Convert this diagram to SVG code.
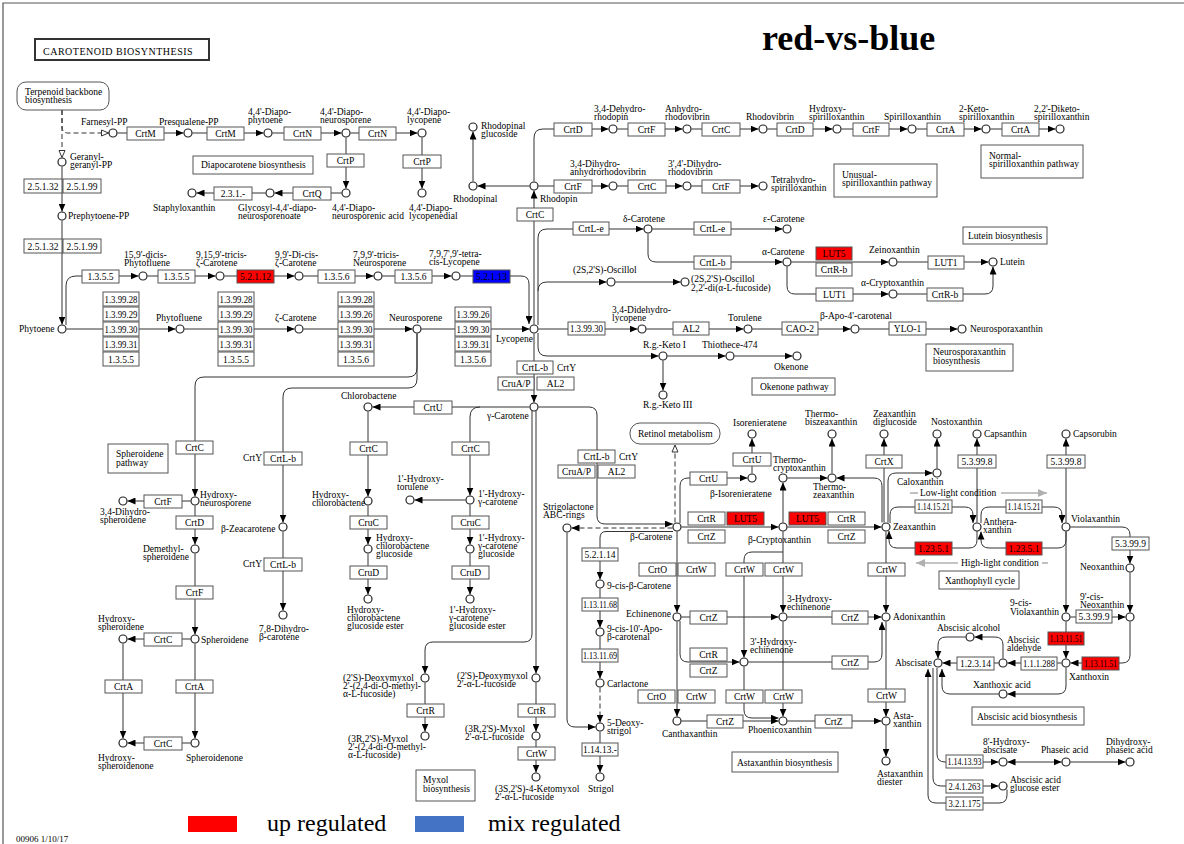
<svg xmlns="http://www.w3.org/2000/svg" width="1184" height="844" viewBox="0 0 1184 844">
<defs>
<marker id="a" markerUnits="userSpaceOnUse" markerWidth="8" markerHeight="7" refX="8" refY="3.5" orient="auto-start-reverse"><path d="M0,0L8,3.5L0,7z" fill="#000"/></marker>
<marker id="h" markerUnits="userSpaceOnUse" markerWidth="9" markerHeight="8" refX="8" refY="4" orient="auto"><path d="M1,1L8,4L1,7z" fill="#fff" stroke="#333" stroke-width="1"/></marker>
<marker id="g" markerUnits="userSpaceOnUse" markerWidth="9" markerHeight="8" refX="9" refY="4" orient="auto"><path d="M0,0L9,4L0,8z" fill="#b0b0b0"/></marker>
<style>
text{font-family:"Liberation Serif","Times New Roman",serif;font-size:9.5px;fill:#000}
.m{text-anchor:middle}
.b{fill:#fff;stroke:#555;stroke-width:1}
.r{fill:#ff0000;stroke:#555;stroke-width:1}
.u{fill:#0000ff;stroke:#555;stroke-width:1}
.p{fill:#fff;stroke:#555;stroke-width:1}
circle{fill:#fff;stroke:#222;stroke-width:1.2}
.e{fill:none;stroke:#333;stroke-width:1}
.ea{fill:none;stroke:#333;stroke-width:1;marker-end:url(#a)}
.d{stroke-dasharray:5,3}
.gl{fill:none;stroke:#b0b0b0;stroke-width:1.6}
</style>
</defs>
<rect width="1184" height="844" fill="#fff"/>
<path d="M3,844V3H1184" fill="none" stroke="#555" stroke-width="1.2"/>

<g id="title">
<rect x="35" y="39" width="174" height="21" fill="#fff" stroke="#333" stroke-width="2"/>
<text x="43" y="55" style="font-size:10px;letter-spacing:0.5px">CAROTENOID  BIOSYNTHESIS</text>
<text x="762" y="50" style="font-size:36px;font-weight:bold">red-vs-blue</text>
</g>
<g id="legend">
<rect x="188" y="816" width="49" height="16" fill="#ff0000"/>
<text x="267" y="831" style="font-size:24px">up regulated</text>
<rect x="415" y="816" width="49" height="16" fill="#4472c4"/>
<text x="488" y="831" style="font-size:24px">mix regulated</text>
<text x="16" y="842" style="font-size:9px">00906 1/10/17</text>
</g>

<g id="connectors">
<path class="e d" d="M62,110V127Q62,133 68,133H108.5" marker-end="url(#h)"/>
<path class="e d" d="M62,110V157.5" marker-end="url(#h)"/>
<path class="ea" d="M117.5,133H183.5"/>
<path class="ea" d="M192.5,133H263.5"/>
<path class="ea" d="M272.5,133H341.5"/>
<path class="ea" d="M350.5,133H417.5"/>
<path class="ea" d="M346,137.5V188.5"/>
<path class="ea" d="M341.5,193H274.5"/>
<path class="ea" d="M265.5,193H196.5"/>
<path class="ea" d="M422,137.5V188.5"/>
<path class="ea" d="M62,166.5V211.5"/>
<path class="ea" d="M62,220.5V324.5"/>
<path class="ea" d="M66,325V286Q66,276 76,276H138.5"/>
<path class="ea" d="M147.5,276H215.5"/>
<path class="ea" d="M224.5,276H294.5"/>
<path class="ea" d="M303.5,276H373.5"/>
<path class="ea" d="M382.5,276H451.5"/>
<path class="ea" d="M460.5,276H521Q529,276 529,284V324"/>
<path class="ea" d="M66.5,329H175.5"/>
<path class="ea" d="M184.5,329H294.5"/>
<path class="ea" d="M303.5,329H412.5"/>
<path class="ea" d="M421.5,329H529.5"/>
<path class="ea" d="M534,324.5V190.5"/>
<path class="ea" d="M538,325V238Q538,229 547,229H643.5"/>
<path class="ea" d="M538,291Q538,282 547,282H606.5"/>
<path class="ea" d="M615.5,282H680.5"/>
<path class="ea" d="M538.5,329H637.5"/>
<path class="ea" d="M646.5,329H743.5"/>
<path class="ea" d="M752.5,329H850.5"/>
<path class="ea" d="M859.5,329H957.5"/>
<path class="ea" d="M538,333V347Q538,356 547,356H658.5"/>
<path class="ea" d="M667.5,356H725.5"/>
<path class="ea" d="M734.5,356H792.5"/>
<path class="ea" d="M663,360.5V390.5"/>
<path class="ea" d="M534,333.5V402.5"/>
<path class="ea" d="M529.5,186H477.5"/>
<path class="ea" d="M473,181.5V131.5"/>
<path class="ea" d="M534,181.5V138Q534,129 543,129H608.5"/>
<path class="ea" d="M617.5,129H682.5"/>
<path class="ea" d="M691.5,129H758.5"/>
<path class="ea" d="M767.5,129H832.5"/>
<path class="ea" d="M841.5,129H907.5"/>
<path class="ea" d="M916.5,129H981.5"/>
<path class="ea" d="M990.5,129H1055.5"/>
<path class="ea" d="M538.5,186H608.5"/>
<path class="ea" d="M617.5,186H682.5"/>
<path class="ea" d="M691.5,186H758.5"/>
<path class="ea" d="M652.5,229H782.5"/>
<path class="ea" d="M648,233.5V254Q648,262 656,262H782.5"/>
<path class="ea" d="M791.5,262H888.5"/>
<path class="ea" d="M897.5,262H988.5"/>
<path class="ea" d="M787,266.5V286Q787,294 795,294H888.5"/>
<path class="ea" d="M897.5,294H985Q993,294 993,286V266.5"/>
<path class="ea" d="M529.5,407H372.5"/>
<path class="ea" d="M480,407Q470,407 470,417V495.5"/>
<path class="ea" d="M465.5,500H414.5"/>
<path class="ea" d="M470,504.5V544.5"/>
<path class="ea" d="M470,553.5V594.5"/>
<path class="ea" d="M538.5,407H589Q597,407 597,415V516Q597,524 605,524H672.8"/>
<path class="ea" d="M368,411.5V496.5"/>
<path class="ea" d="M368,505.5V544.5"/>
<path class="ea" d="M368,553.5V594.5"/>
<path class="ea" d="M532,411V634Q532,642 524,642H433Q425,642 425,650V673.5"/>
<path class="ea" d="M536,411V673.5"/>
<path class="ea" d="M425,682.5V731.5"/>
<path class="ea" d="M536,682.5V731.5"/>
<path class="ea" d="M536,740.5V772.5"/>
<path class="ea" d="M417,333.5V368Q417,377 408,377H204Q195,377 195,386V496.5"/>
<path class="ea" d="M417,333.5V379Q417,388 408,388H292Q283,388 283,397V522.5"/>
<path class="ea" d="M283,531.5V610.5"/>
<path class="ea" d="M190.5,501H127.5"/>
<path class="ea" d="M195,505.5V544.5"/>
<path class="ea" d="M195,553.5V634.5"/>
<path class="ea" d="M190.5,639H127.5"/>
<path class="ea" d="M195,643.5V738.5"/>
<path class="ea" d="M123,643.5V738.5"/>
<path class="ea" d="M190.5,743H127.5"/>
<path class="ea d" d="M672.5,528H571.5"/>
<path class="ea" d="M673,531.5H606Q600,531.5 600,538V579.5"/>
<path class="ea" d="M600,588.5V627.5"/>
<path class="ea" d="M600,636.5V678.5"/>
<path class="ea d" d="M600,687.5V722.5"/>
<path class="ea" d="M600,731.5V772.5"/>
<path class="ea" d="M567,532.5V719Q567,727 575,727H595.5"/>
<path class="e d" d="M675,522.5V445" marker-end="url(#h)"/>
<path class="ea" d="M681.5,527H778.5"/>
<path class="ea" d="M787.5,527H881.5"/>
<path class="ea" d="M680,523V486Q680,478 688,478H747.5"/>
<path class="ea" d="M752,473.5V438.5"/>
<path class="ea" d="M783,522.5V482.5"/>
<path class="ea" d="M787.5,478H827.5"/>
<path class="ea" d="M832,473.5V438.5"/>
<path class="ea" d="M882,522.5V486Q882,478 874,478H836.5"/>
<path class="ea" d="M884,522.5V438.5"/>
<path class="ea" d="M888,522.5V481Q888,473 896,473H932.5"/>
<path class="ea" d="M937,468.5V438.5"/>
<path class="ea" d="M890,523V515Q890,507 898,507H965Q973,507 973,515V523"/>
<path class="ea" d="M977,531V540Q977,548 969,548H897Q889,548 889,540V531"/>
<path class="ea" d="M981,523V515Q981,507 989,507H1054Q1062,507 1062,515V523"/>
<path class="ea" d="M1066,531.5V540Q1066,548 1058,548H989Q981,548 981,540V531.5"/>
<path class="ea" d="M977,522.5V438.5"/>
<path class="ea" d="M1066,522.5V438.5"/>
<path class="ea" d="M1070.5,527H1122Q1130,527 1130,535V563.5"/>
<path class="ea" d="M1130,572.5V612.5"/>
<path class="ea" d="M1066,531.5V612.5"/>
<path class="ea" d="M1070.5,617H1125.5"/>
<path class="ea" d="M1066,621.5V658.5"/>
<path class="ea" d="M1130,621.5V655Q1130,663 1122,663H1070.5"/>
<path class="ea" d="M1061.5,663H1007.5"/>
<path class="ea" d="M998.5,663H942.5"/>
<path class="ea" d="M1003,658.5V645Q1003,637 995,637H974.5"/>
<path class="ea" d="M965.5,637H946Q938,637 938,645V658.5"/>
<path class="ea" d="M1066,667.5V686Q1066,694 1058,694H1007.5"/>
<path class="ea" d="M998.5,694H950Q942,694 942,686V669"/>
<path class="ea" d="M937,668V754Q937,762 945,762H998.5"/>
<path class="ea" d="M933,668V778Q933,786 941,786H998.5"/>
<path class="ea" d="M1007.5,762H1061.5" marker-start="url(#a)"/>
<path class="ea" d="M1070.5,762H1125.5"/>
<path class="ea" d="M1007,789.5V795Q1007,803 999,803H936Q928,803 928,795V669"/>
<path class="ea" d="M677,531.5V612.5"/>
<path class="ea" d="M681.5,617H778.5"/>
<path class="ea" d="M783,531.5V612.5"/>
<path class="ea" d="M787.5,617H881.5"/>
<path class="ea" d="M886,531.5V612.5"/>
<path class="ea" d="M680,621V654Q680,662 688,662H739.5"/>
<path class="ea" d="M783,552H752Q744,552 744,560V657.5"/>
<path class="ea" d="M748.5,662H874Q882,662 882,654V622"/>
<path class="ea" d="M677,621.5V716.5"/>
<path class="ea" d="M681.5,721H778.5"/>
<path class="ea" d="M783,621.5V716.5"/>
<path class="ea" d="M744,666.5V710Q744,718 752,718H778.5"/>
<path class="ea" d="M787.5,721H881.5"/>
<path class="ea" d="M886,621.5V716.5"/>
<path class="ea" d="M886,725.5V756.5"/>
<path class="gl" d="M910,493H918"/>
<path class="gl" d="M1001,493H1047" marker-end="url(#g)"/>
<path class="gl" d="M958,563H916" marker-end="url(#g)"/>
<path class="gl" d="M1042,563H1048"/>
</g>

<g id="conditions">
<text x="920" y="496">Low-light condition</text>
<text x="961" y="566">High-light condition</text>
</g>

<g id="maps">
<g id="m-terpenoid"><rect class="p" x="17" y="82" width="92" height="28" rx="9"/><text x="25" y="95">Terpenoid backbone<tspan x="25" y="103">biosynthesis</tspan></text></g>
<g id="m-retinol"><rect class="p" x="630" y="423" width="90" height="21" rx="10"/><text x="638" y="437">Retinol metabolism</text></g>
<g id="m-diapo"><rect class="p" x="193" y="156" width="120" height="18"/><text x="201" y="168">Diapocarotene biosynthesis</text></g>
<g id="m-spheroidene"><rect class="p" x="108" y="444" width="60" height="29"/><text x="116" y="457">Spheroidene<tspan x="116" y="466">pathway</tspan></text></g>
<g id="m-normal"><rect class="p" x="981" y="145" width="102" height="33"/><text x="989" y="159">Normal-<tspan x="989" y="167">spirilloxanthin pathway</tspan></text></g>
<g id="m-unusual"><rect class="p" x="834" y="164" width="103" height="33"/><text x="842" y="178">Unusual-<tspan x="842" y="186">spirilloxanthin pathway</tspan></text></g>
<g id="m-lutein"><rect class="p" x="963" y="227" width="84" height="17"/><text x="968" y="239">Lutein biosynthesis</text></g>
<g id="m-neuro"><rect class="p" x="926" y="344" width="87" height="27"/><text x="933" y="355">Neurosporaxanthin<tspan x="933" y="364">biosynthesis</tspan></text></g>
<g id="m-okenone"><rect class="p" x="752" y="378" width="83" height="17"/><text x="760" y="390">Okenone pathway</text></g>
<g id="m-myxol"><rect class="p" x="416" y="770" width="59" height="31"/><text x="423" y="783">Myxol<tspan x="423" y="792">biosynthesis</tspan></text></g>
<g id="m-astaxanthin"><rect class="p" x="732" y="752" width="106" height="20"/><text x="737" y="766">Astaxanthin biosynthesis</text></g>
<g id="m-xanthophyll"><rect class="p" x="939" y="571" width="80" height="18"/><text x="945" y="584">Xanthophyll cycle</text></g>
<g id="m-aba"><rect class="p" x="972" y="707" width="112" height="18"/><text x="977" y="720">Abscisic acid biosynthesis</text></g>
</g>

<g id="enzymes">
<g id="k1"><rect class="b" x="127" y="127" width="37" height="13"/><text class="m" x="145.5" y="137">CrtM</text></g>
<g id="k2"><rect class="b" x="207" y="127" width="37" height="13"/><text class="m" x="225.5" y="137">CrtM</text></g>
<g id="k3"><rect class="b" x="284" y="127" width="37" height="13"/><text class="m" x="302.5" y="137">CrtN</text></g>
<g id="k4"><rect class="b" x="359" y="127" width="37" height="13"/><text class="m" x="377.5" y="137">CrtN</text></g>
<g id="k5"><rect class="b" x="327" y="154" width="37" height="13"/><text class="m" x="345.5" y="164">CrtP</text></g>
<g id="k6"><rect class="b" x="403" y="155" width="38" height="13"/><text class="m" x="422" y="165">CrtP</text></g>
<g id="k7"><rect class="b" x="293" y="187" width="38" height="13"/><text class="m" x="312" y="197">CrtQ</text></g>
<g id="k8"><rect class="b" x="214" y="187" width="38" height="13"/><text class="m" x="233" y="197">2.3.1.-</text></g>
<g id="k9"><rect class="b" x="24" y="179" width="38" height="14"/><text class="m" x="43" y="190">2.5.1.32</text></g>
<g id="k10"><rect class="b" x="63" y="179" width="38" height="14"/><text class="m" x="82" y="190">2.5.1.99</text></g>
<g id="k11"><rect class="b" x="24" y="239" width="38" height="14"/><text class="m" x="43" y="250">2.5.1.32</text></g>
<g id="k12"><rect class="b" x="63" y="239" width="38" height="14"/><text class="m" x="82" y="250">2.5.1.99</text></g>
<g id="k13"><rect class="b" x="82" y="270" width="37" height="13"/><text class="m" x="100.5" y="280">1.3.5.5</text></g>
<g id="k14"><rect class="b" x="158" y="270" width="37" height="13"/><text class="m" x="176.5" y="280">1.3.5.5</text></g>
<g id="k15"><rect class="r" x="237" y="270" width="37" height="13"/><text class="m" x="255.5" y="280">5.2.1.12</text></g>
<g id="k16"><rect class="b" x="318" y="270" width="37" height="13"/><text class="m" x="336.5" y="280">1.3.5.6</text></g>
<g id="k17"><rect class="b" x="395" y="270" width="37" height="13"/><text class="m" x="413.5" y="280">1.3.5.6</text></g>
<g id="k18"><rect class="u" x="473" y="270" width="37" height="13"/><text class="m" x="491.5" y="280">5.2.1.13</text></g>
<g id="s1">
<rect class="b" x="103" y="292" width="36" height="14"/><text class="m" x="121" y="302.5" textLength="33" lengthAdjust="spacingAndGlyphs">1.3.99.28</text>
<rect class="b" x="103" y="307" width="36" height="14"/><text class="m" x="121" y="317.5" textLength="33" lengthAdjust="spacingAndGlyphs">1.3.99.29</text>
<rect class="b" x="103" y="322" width="36" height="14"/><text class="m" x="121" y="332.5" textLength="33" lengthAdjust="spacingAndGlyphs">1.3.99.30</text>
<rect class="b" x="103" y="337" width="36" height="14"/><text class="m" x="121" y="347.5" textLength="33" lengthAdjust="spacingAndGlyphs">1.3.99.31</text>
<rect class="b" x="103" y="352" width="36" height="14"/><text class="m" x="121" y="362.5">1.3.5.5</text>
</g>
<g id="s2">
<rect class="b" x="218" y="292" width="36" height="14"/><text class="m" x="236" y="302.5" textLength="33" lengthAdjust="spacingAndGlyphs">1.3.99.28</text>
<rect class="b" x="218" y="307" width="36" height="14"/><text class="m" x="236" y="317.5" textLength="33" lengthAdjust="spacingAndGlyphs">1.3.99.29</text>
<rect class="b" x="218" y="322" width="36" height="14"/><text class="m" x="236" y="332.5" textLength="33" lengthAdjust="spacingAndGlyphs">1.3.99.30</text>
<rect class="b" x="218" y="337" width="36" height="14"/><text class="m" x="236" y="347.5" textLength="33" lengthAdjust="spacingAndGlyphs">1.3.99.31</text>
<rect class="b" x="218" y="352" width="36" height="14"/><text class="m" x="236" y="362.5">1.3.5.5</text>
</g>
<g id="s3">
<rect class="b" x="338" y="292" width="36" height="14"/><text class="m" x="356" y="302.5" textLength="33" lengthAdjust="spacingAndGlyphs">1.3.99.28</text>
<rect class="b" x="338" y="307" width="36" height="14"/><text class="m" x="356" y="317.5" textLength="33" lengthAdjust="spacingAndGlyphs">1.3.99.26</text>
<rect class="b" x="338" y="322" width="36" height="14"/><text class="m" x="356" y="332.5" textLength="33" lengthAdjust="spacingAndGlyphs">1.3.99.30</text>
<rect class="b" x="338" y="337" width="36" height="14"/><text class="m" x="356" y="347.5" textLength="33" lengthAdjust="spacingAndGlyphs">1.3.99.31</text>
<rect class="b" x="338" y="352" width="36" height="14"/><text class="m" x="356" y="362.5">1.3.5.6</text>
</g>
<g id="s4">
<rect class="b" x="455" y="307" width="36" height="14"/><text class="m" x="473" y="317.5" textLength="33" lengthAdjust="spacingAndGlyphs">1.3.99.26</text>
<rect class="b" x="455" y="322" width="36" height="14"/><text class="m" x="473" y="332.5" textLength="33" lengthAdjust="spacingAndGlyphs">1.3.99.30</text>
<rect class="b" x="455" y="337" width="36" height="14"/><text class="m" x="473" y="347.5" textLength="33" lengthAdjust="spacingAndGlyphs">1.3.99.31</text>
<rect class="b" x="455" y="352" width="36" height="14"/><text class="m" x="473" y="362.5">1.3.5.6</text>
</g>
<g id="k19"><rect class="b" x="517" y="208" width="36" height="13"/><text class="m" x="535" y="218">CrtC</text></g>
<g id="k20"><rect class="b" x="554" y="123" width="38" height="13"/><text class="m" x="573" y="133">CrtD</text></g>
<g id="k21"><rect class="b" x="628" y="123" width="37" height="13"/><text class="m" x="646.5" y="133">CrtF</text></g>
<g id="k22"><rect class="b" x="702" y="123" width="38" height="13"/><text class="m" x="721" y="133">CrtC</text></g>
<g id="k23"><rect class="b" x="777" y="123" width="36" height="13"/><text class="m" x="795" y="133">CrtD</text></g>
<g id="k24"><rect class="b" x="853" y="123" width="36" height="13"/><text class="m" x="871" y="133">CrtF</text></g>
<g id="k25"><rect class="b" x="927" y="123" width="37" height="13"/><text class="m" x="945.5" y="133">CrtA</text></g>
<g id="k26"><rect class="b" x="1002" y="123" width="37" height="13"/><text class="m" x="1020.5" y="133">CrtA</text></g>
<g id="k27"><rect class="b" x="554" y="180" width="38" height="13"/><text class="m" x="573" y="190">CrtF</text></g>
<g id="k28"><rect class="b" x="628" y="180" width="38" height="13"/><text class="m" x="647" y="190">CrtC</text></g>
<g id="k29"><rect class="b" x="702" y="180" width="38" height="13"/><text class="m" x="721" y="190">CrtF</text></g>
<g id="k30"><rect class="b" x="573" y="222" width="36" height="13"/><text class="m" x="591" y="232">CrtL-e</text></g>
<g id="k31"><rect class="b" x="694" y="222" width="37" height="13"/><text class="m" x="712.5" y="232">CrtL-e</text></g>
<g id="k32"><rect class="b" x="694" y="256" width="37" height="13"/><text class="m" x="712.5" y="266">CrtL-b</text></g>
<g id="k33"><rect class="r" x="816" y="247" width="36" height="13"/><text class="m" x="834" y="257">LUT5</text></g>
<g id="k34"><rect class="b" x="816" y="263" width="36" height="13"/><text class="m" x="834" y="273">CrtR-b</text></g>
<g id="k35"><rect class="b" x="928" y="256" width="36" height="13"/><text class="m" x="946" y="266">LUT1</text></g>
<g id="k36"><rect class="b" x="816" y="288" width="37" height="13"/><text class="m" x="834.5" y="298">LUT1</text></g>
<g id="k37"><rect class="b" x="927" y="288" width="36" height="13"/><text class="m" x="945" y="298">CrtR-b</text></g>
<g id="k38"><rect class="b" x="568" y="322" width="37" height="13"/><text class="m" x="586.5" y="332" textLength="33" lengthAdjust="spacingAndGlyphs">1.3.99.30</text></g>
<g id="k39"><rect class="b" x="673" y="322" width="36" height="13"/><text class="m" x="691" y="332">AL2</text></g>
<g id="k40"><rect class="b" x="782" y="322" width="36" height="13"/><text class="m" x="800" y="332">CAO-2</text></g>
<g id="k41"><rect class="b" x="889" y="322" width="37" height="13"/><text class="m" x="907.5" y="332">YLO-1</text></g>
<g id="k42"><rect class="b" x="517" y="361" width="36" height="13"/><text class="m" x="535" y="371">CrtL-b</text><text x="557" y="371">CrtY</text></g>
<g id="k43"><rect class="b" x="498" y="377" width="36" height="13"/><text class="m" x="516" y="387">CruA/P</text></g>
<g id="k44"><rect class="b" x="537" y="377" width="37" height="13"/><text class="m" x="555.5" y="387">AL2</text></g>
<g id="k45"><rect class="b" x="414" y="401" width="38" height="13"/><text class="m" x="433" y="411">CrtU</text></g>
<g id="k46"><rect class="b" x="452" y="442" width="37" height="13"/><text class="m" x="470.5" y="452">CrtC</text></g>
<g id="k47"><rect class="b" x="452" y="516" width="37" height="13"/><text class="m" x="470.5" y="526">CruC</text></g>
<g id="k48"><rect class="b" x="452" y="566" width="37" height="13"/><text class="m" x="470.5" y="576">CruD</text></g>
<g id="k49"><rect class="b" x="350" y="442" width="37" height="13"/><text class="m" x="368.5" y="452">CrtC</text></g>
<g id="k50"><rect class="b" x="350" y="516" width="37" height="13"/><text class="m" x="368.5" y="526">CruC</text></g>
<g id="k51"><rect class="b" x="350" y="566" width="37" height="13"/><text class="m" x="368.5" y="576">CruD</text></g>
<g id="k52"><rect class="b" x="176" y="441" width="37" height="13"/><text class="m" x="194.5" y="451">CrtC</text></g>
<g id="k53"><rect class="b" x="144" y="495" width="38" height="13"/><text class="m" x="163" y="505">CrtF</text></g>
<g id="k54"><rect class="b" x="176" y="516" width="37" height="13"/><text class="m" x="194.5" y="526">CrtD</text></g>
<g id="k55"><rect class="b" x="176" y="586" width="37" height="13"/><text class="m" x="194.5" y="596">CrtF</text></g>
<g id="k56"><rect class="b" x="144" y="633" width="38" height="13"/><text class="m" x="163" y="643">CrtC</text></g>
<g id="k57"><rect class="b" x="176" y="680" width="37" height="13"/><text class="m" x="194.5" y="690">CrtA</text></g>
<g id="k58"><rect class="b" x="105" y="680" width="37" height="13"/><text class="m" x="123.5" y="690">CrtA</text></g>
<g id="k59"><rect class="b" x="144" y="737" width="38" height="13"/><text class="m" x="163" y="747">CrtC</text></g>
<g id="k60"><rect class="b" x="264" y="452" width="38" height="13"/><text class="m" x="283" y="462">CrtL-b</text><text x="243" y="461">CrtY</text></g>
<g id="k61"><rect class="b" x="264" y="558" width="38" height="13"/><text class="m" x="283" y="568">CrtL-b</text><text x="243" y="567">CrtY</text></g>
<g id="k62"><rect class="b" x="407" y="704" width="37" height="13"/><text class="m" x="425.5" y="714">CrtR</text></g>
<g id="k63"><rect class="b" x="518" y="704" width="37" height="13"/><text class="m" x="536.5" y="714">CrtR</text></g>
<g id="k64"><rect class="b" x="518" y="747" width="37" height="13"/><text class="m" x="536.5" y="757">CrtW</text></g>
<g id="k65"><rect class="b" x="578" y="450" width="37" height="13"/><text class="m" x="596.5" y="460">CrtL-b</text><text x="619" y="460">CrtY</text></g>
<g id="k66"><rect class="b" x="558" y="465" width="37" height="13"/><text class="m" x="576.5" y="475">CruA/P</text></g>
<g id="k67"><rect class="b" x="598" y="465" width="37" height="13"/><text class="m" x="616.5" y="475">AL2</text></g>
<g id="k68"><rect class="b" x="582" y="548" width="36" height="13"/><text class="m" x="600" y="558">5.2.1.14</text></g>
<g id="k69"><rect class="b" x="582" y="598" width="36" height="13"/><text class="m" x="600" y="608" textLength="34" lengthAdjust="spacingAndGlyphs">1.13.11.68</text></g>
<g id="k70"><rect class="b" x="582" y="649" width="36" height="13"/><text class="m" x="600" y="659" textLength="34" lengthAdjust="spacingAndGlyphs">1.13.11.69</text></g>
<g id="k71"><rect class="b" x="582" y="743" width="36" height="13"/><text class="m" x="600" y="753">1.14.13.-</text></g>
<g id="k72"><rect class="b" x="690" y="472" width="37" height="13"/><text class="m" x="708.5" y="482">CrtU</text></g>
<g id="k73"><rect class="b" x="733" y="453" width="38" height="13"/><text class="m" x="752" y="463">CrtU</text></g>
<g id="k74"><rect class="b" x="688" y="512" width="37" height="13"/><text class="m" x="706.5" y="522">CrtR</text></g>
<g id="k75"><rect class="r" x="727" y="512" width="37" height="13"/><text class="m" x="745.5" y="522">LUT5</text></g>
<g id="k76"><rect class="b" x="688" y="530" width="37" height="13"/><text class="m" x="706.5" y="540">CrtZ</text></g>
<g id="k77"><rect class="r" x="789" y="512" width="37" height="13"/><text class="m" x="807.5" y="522">LUT5</text></g>
<g id="k78"><rect class="b" x="828" y="512" width="37" height="13"/><text class="m" x="846.5" y="522">CrtR</text></g>
<g id="k79"><rect class="b" x="828" y="530" width="37" height="13"/><text class="m" x="846.5" y="540">CrtZ</text></g>
<g id="k80"><rect class="b" x="866" y="455" width="36" height="13"/><text class="m" x="884" y="465">CrtX</text></g>
<g id="k81"><rect class="b" x="915" y="500" width="37" height="13"/><text class="m" x="933.5" y="510" textLength="33" lengthAdjust="spacingAndGlyphs">1.14.15.21</text></g>
<g id="k82"><rect class="b" x="1006" y="500" width="36" height="13"/><text class="m" x="1024" y="510" textLength="33" lengthAdjust="spacingAndGlyphs">1.14.15.21</text></g>
<g id="k83"><rect class="r" x="915" y="542" width="37" height="13"/><text class="m" x="933.5" y="552">1.23.5.1</text></g>
<g id="k84"><rect class="r" x="1006" y="542" width="36" height="13"/><text class="m" x="1024" y="552">1.23.5.1</text></g>
<g id="k85"><rect class="b" x="958" y="455" width="38" height="13"/><text class="m" x="977" y="465">5.3.99.8</text></g>
<g id="k86"><rect class="b" x="1047" y="455" width="38" height="13"/><text class="m" x="1066" y="465">5.3.99.8</text></g>
<g id="k87"><rect class="b" x="1112" y="537" width="37" height="13"/><text class="m" x="1130.5" y="547">5.3.99.9</text></g>
<g id="k88"><rect class="b" x="1076" y="610" width="36" height="13"/><text class="m" x="1094" y="620">5.3.99.9</text></g>
<g id="k89"><rect class="r" x="1048" y="632" width="36" height="13"/><text class="m" x="1066" y="642" textLength="33" lengthAdjust="spacingAndGlyphs">1.13.11.51</text></g>
<g id="k90"><rect class="r" x="1082" y="657" width="37" height="13"/><text class="m" x="1100.5" y="667" textLength="33" lengthAdjust="spacingAndGlyphs">1.13.11.51</text></g>
<g id="k91"><rect class="b" x="1021" y="657" width="36" height="13"/><text class="m" x="1039" y="667" textLength="32" lengthAdjust="spacingAndGlyphs">1.1.1.288</text></g>
<g id="k92"><rect class="b" x="957" y="657" width="37" height="13"/><text class="m" x="975.5" y="667">1.2.3.14</text></g>
<g id="k93"><rect class="b" x="946" y="755" width="37" height="13"/><text class="m" x="964.5" y="765" textLength="34" lengthAdjust="spacingAndGlyphs">1.14.13.93</text></g>
<g id="k94"><rect class="b" x="946" y="780" width="37" height="13"/><text class="m" x="964.5" y="790" textLength="32" lengthAdjust="spacingAndGlyphs">2.4.1.263</text></g>
<g id="k95"><rect class="b" x="946" y="797" width="37" height="13"/><text class="m" x="964.5" y="807" textLength="32" lengthAdjust="spacingAndGlyphs">3.2.1.175</text></g>
<g id="k96"><rect class="b" x="639" y="563" width="37" height="13"/><text class="m" x="657.5" y="573">CrtO</text></g>
<g id="k97"><rect class="b" x="678" y="563" width="37" height="13"/><text class="m" x="696.5" y="573">CrtW</text></g>
<g id="k98"><rect class="b" x="726" y="563" width="37" height="13"/><text class="m" x="744.5" y="573">CrtW</text></g>
<g id="k99"><rect class="b" x="765" y="563" width="37" height="13"/><text class="m" x="783.5" y="573">CrtW</text></g>
<g id="k100"><rect class="b" x="868" y="563" width="37" height="13"/><text class="m" x="886.5" y="573">CrtW</text></g>
<g id="k101"><rect class="b" x="690" y="611" width="37" height="13"/><text class="m" x="708.5" y="621">CrtZ</text></g>
<g id="k102"><rect class="b" x="832" y="611" width="36" height="13"/><text class="m" x="850" y="621">CrtZ</text></g>
<g id="k103"><rect class="b" x="690" y="648" width="37" height="13"/><text class="m" x="708.5" y="658">CrtR</text></g>
<g id="k104"><rect class="b" x="690" y="664" width="37" height="13"/><text class="m" x="708.5" y="674">CrtZ</text></g>
<g id="k105"><rect class="b" x="832" y="656" width="36" height="13"/><text class="m" x="850" y="666">CrtZ</text></g>
<g id="k106"><rect class="b" x="638" y="690" width="37" height="13"/><text class="m" x="656.5" y="700">CrtO</text></g>
<g id="k107"><rect class="b" x="678" y="690" width="37" height="13"/><text class="m" x="696.5" y="700">CrtW</text></g>
<g id="k108"><rect class="b" x="726" y="690" width="37" height="13"/><text class="m" x="744.5" y="700">CrtW</text></g>
<g id="k109"><rect class="b" x="765" y="690" width="37" height="13"/><text class="m" x="783.5" y="700">CrtW</text></g>
<g id="k110"><rect class="b" x="868" y="689" width="37" height="13"/><text class="m" x="886.5" y="699">CrtW</text></g>
<g id="k111"><rect class="b" x="707" y="715" width="36" height="13"/><text class="m" x="725" y="725">CrtZ</text></g>
<g id="k112"><rect class="b" x="815" y="715" width="37" height="13"/><text class="m" x="833.5" y="725">CrtZ</text></g>
</g>

<g id="compounds">
<g id="c1"><circle cx="113" cy="133" r="4"/><text x="81" y="125">Farnesyl-PP</text></g>
<g id="c2"><circle cx="188" cy="133" r="4"/><text x="159" y="125">Presqualene-PP</text></g>
<g id="c3"><circle cx="268" cy="133" r="4"/><text x="248" y="115">4,4'-Diapo-<tspan x="248" y="123">phytoene</tspan></text></g>
<g id="c4"><circle cx="346" cy="133" r="4"/><text x="320" y="115">4,4'-Diapo-<tspan x="320" y="123">neurosporene</tspan></text></g>
<g id="c5"><circle cx="422" cy="133" r="4"/><text x="407" y="115">4,4'-Diapo-<tspan x="407" y="123">lycopene</tspan></text></g>
<g id="c6"><circle cx="346" cy="193" r="4"/><text x="332" y="211">4,4'-Diapo-<tspan x="332" y="219">neurosporenic acid</tspan></text></g>
<g id="c7"><circle cx="270" cy="193" r="4"/><text x="238" y="211">Glycosyl-4,4'-diapo-<tspan x="238" y="219">neurosporenoate</tspan></text></g>
<g id="c8"><circle cx="192" cy="193" r="4"/><text x="153" y="211">Staphyloxanthin</text></g>
<g id="c9"><circle cx="422" cy="193" r="4"/><text x="409" y="211">4,4'-Diapo-<tspan x="409" y="219">lycopenedial</tspan></text></g>
<g id="c10"><circle cx="62" cy="162" r="4"/><text x="70" y="160">Geranyl-<tspan x="70" y="168">geranyl-PP</tspan></text></g>
<g id="c11"><circle cx="62" cy="216" r="4"/><text x="68" y="219">Prephytoene-PP</text></g>
<g id="c12"><circle cx="62" cy="329" r="4"/><text x="19" y="332">Phytoene</text></g>
<g id="c13"><circle cx="143" cy="276" r="4"/><text x="124" y="258">15,9'-dicis-<tspan x="124" y="266">Phytofluene</tspan></text></g>
<g id="c14"><circle cx="220" cy="276" r="4"/><text x="196" y="258">9,15,9'-tricis-<tspan x="196" y="266">ζ-Carotene</tspan></text></g>
<g id="c15"><circle cx="299" cy="276" r="4"/><text x="275" y="258">9,9'-Di-cis-<tspan x="275" y="266">ζ-Carotene</tspan></text></g>
<g id="c16"><circle cx="378" cy="276" r="4"/><text x="353" y="258">7,9,9'-tricis-<tspan x="353" y="266">Neurosporene</tspan></text></g>
<g id="c17"><circle cx="456" cy="276" r="4"/><text x="429" y="257">7,9,7',9'-tetra-<tspan x="429" y="265">cis-Lycopene</tspan></text></g>
<g id="c18"><circle cx="180" cy="329" r="4"/><text x="156" y="321">Phytofluene</text></g>
<g id="c19"><circle cx="299" cy="329" r="4"/><text x="275" y="321">ζ-Carotene</text></g>
<g id="c20"><circle cx="417" cy="329" r="4"/><text x="389" y="321">Neurosporene</text></g>
<g id="c21"><circle cx="534" cy="329" r="4"/><text x="496" y="342">Lycopene</text></g>
<g id="c22"><circle cx="534" cy="186" r="4"/><text x="540" y="202">Rhodopin</text></g>
<g id="c23"><circle cx="473" cy="186" r="4"/><text x="453" y="202">Rhodopinal</text></g>
<g id="c24"><circle cx="473" cy="127" r="4"/><text x="481" y="129">Rhodopinal<tspan x="481" y="137">glucoside</tspan></text></g>
<g id="c25"><circle cx="613" cy="129" r="4"/><text x="594" y="112">3,4-Dehydro-<tspan x="594" y="120">rhodopin</tspan></text></g>
<g id="c26"><circle cx="687" cy="129" r="4"/><text x="665" y="112">Anhydro-<tspan x="665" y="120">rhodovibrin</tspan></text></g>
<g id="c27"><circle cx="763" cy="129" r="4"/><text x="746" y="120">Rhodovibrin</text></g>
<g id="c28"><circle cx="837" cy="129" r="4"/><text x="809" y="112">Hydroxy-<tspan x="809" y="120">spirilloxanthin</tspan></text></g>
<g id="c29"><circle cx="912" cy="129" r="4"/><text x="884" y="120">Spirilloxanthin</text></g>
<g id="c30"><circle cx="986" cy="129" r="4"/><text x="959" y="112">2-Keto-<tspan x="959" y="120">spirilloxanthin</tspan></text></g>
<g id="c31"><circle cx="1060" cy="129" r="4"/><text x="1034" y="112">2,2'-Diketo-<tspan x="1034" y="120">spirilloxanthin</tspan></text></g>
<g id="c32"><circle cx="613" cy="186" r="4"/><text x="570" y="167">3,4-Dihydro-<tspan x="570" y="175">anhydrorhodovibrin</tspan></text></g>
<g id="c33"><circle cx="687" cy="186" r="4"/><text x="668" y="167">3',4'-Dihydro-<tspan x="668" y="175">rhodovibrin</tspan></text></g>
<g id="c34"><circle cx="763" cy="186" r="4"/><text x="771" y="183">Tetrahydro-<tspan x="771" y="191">spirilloxanthin</tspan></text></g>
<g id="c35"><circle cx="648" cy="229" r="4"/><text x="623" y="222">δ-Carotene</text></g>
<g id="c36"><circle cx="787" cy="229" r="4"/><text x="763" y="222">ε-Carotene</text></g>
<g id="c37"><circle cx="787" cy="262" r="4"/><text x="762" y="255">α-Carotene</text></g>
<g id="c38"><circle cx="893" cy="262" r="4"/><text x="869" y="253">Zeinoxanthin</text></g>
<g id="c39"><circle cx="993" cy="262" r="4"/><text x="1000" y="265">Lutein</text></g>
<g id="c40"><circle cx="893" cy="294" r="4"/><text x="861" y="286">α-Cryptoxanthin</text></g>
<g id="c41"><circle cx="611" cy="282" r="4"/><text x="573" y="273">(2S,2'S)-Oscillol</text></g>
<g id="c42"><circle cx="685" cy="282" r="4"/><text x="691" y="282">(2S,2'S)-Oscillol<tspan x="691" y="291">2,2'-di(α-L-fucoside)</tspan></text></g>
<g id="c43"><circle cx="642" cy="329" r="4"/><text x="612" y="313">3,4-Didehydro-<tspan x="612" y="321">lycopene</tspan></text></g>
<g id="c44"><circle cx="748" cy="329" r="4"/><text x="728" y="321">Torulene</text></g>
<g id="c45"><circle cx="855" cy="329" r="4"/><text x="820" y="319">β-Apo-4'-carotenal</text></g>
<g id="c46"><circle cx="962" cy="329" r="4"/><text x="970" y="332">Neurosporaxanthin</text></g>
<g id="c47"><circle cx="663" cy="356" r="4"/><text x="643" y="348">R.g.-Keto I</text></g>
<g id="c48"><circle cx="730" cy="356" r="4"/><text x="702" y="348">Thiothece-474</text></g>
<g id="c49"><circle cx="797" cy="356" r="4"/><text x="774" y="370">Okenone</text></g>
<g id="c50"><circle cx="663" cy="395" r="4"/><text x="643" y="408">R.g.-Keto III</text></g>
<g id="c51"><circle cx="534" cy="407" r="4"/><text x="487" y="419">γ-Carotene</text></g>
<g id="c52"><circle cx="368" cy="407" r="4"/><text x="341" y="399">Chlorobactene</text></g>
<g id="c53"><circle cx="470" cy="500" r="4"/><text x="478" y="497">1'-Hydroxy-<tspan x="478" y="505">γ-carotene</tspan></text></g>
<g id="c54"><circle cx="410" cy="500" r="4"/><text x="397" y="482">1'-Hydroxy-<tspan x="397" y="490">torulene</tspan></text></g>
<g id="c55"><circle cx="470" cy="549" r="4"/><text x="478" y="541">1'-Hydroxy-<tspan x="478" y="549">γ-carotene</tspan><tspan x="478" y="557">glucoside</tspan></text></g>
<g id="c56"><circle cx="470" cy="599" r="4"/><text x="449" y="613">1'-Hydroxy-<tspan x="449" y="621">γ-carotene</tspan><tspan x="449" y="629">glucoside ester</tspan></text></g>
<g id="c57"><circle cx="368" cy="501" r="4"/><text x="312" y="498">Hydroxy-<tspan x="312" y="506">chlorobactene</tspan></text></g>
<g id="c58"><circle cx="368" cy="549" r="4"/><text x="376" y="541">Hydroxy-<tspan x="376" y="549">chlorobactene</tspan><tspan x="376" y="557">glucoside</tspan></text></g>
<g id="c59"><circle cx="368" cy="599" r="4"/><text x="347" y="613">Hydroxy-<tspan x="347" y="621">chlorobactene</tspan><tspan x="347" y="629">glucoside ester</tspan></text></g>
<g id="c60"><circle cx="195" cy="501" r="4"/><text x="200" y="498">Hydroxy-<tspan x="200" y="506">neurosporene</tspan></text></g>
<g id="c61"><circle cx="123" cy="501" r="4"/><text x="100" y="515">3,4-Dihydro-<tspan x="100" y="523">spheroidene</tspan></text></g>
<g id="c62"><circle cx="195" cy="549" r="4"/><text x="143" y="552">Demethyl-<tspan x="143" y="560">spheroidene</tspan></text></g>
<g id="c63"><circle cx="195" cy="639" r="4"/><text x="201" y="643">Spheroidene</text></g>
<g id="c64"><circle cx="123" cy="639" r="4"/><text x="98" y="622">Hydroxy-<tspan x="98" y="630">spheroidene</tspan></text></g>
<g id="c65"><circle cx="195" cy="743" r="4"/><text x="186" y="761">Spheroidenone</text></g>
<g id="c66"><circle cx="123" cy="743" r="4"/><text x="98" y="761">Hydroxy-<tspan x="98" y="769">spheroidenone</tspan></text></g>
<g id="c67"><circle cx="283" cy="527" r="4"/><text x="221" y="532">β-Zeacarotene</text></g>
<g id="c68"><circle cx="283" cy="615" r="4"/><text x="259" y="632">7,8-Dihydro-<tspan x="259" y="640">β-carotene</tspan></text></g>
<g id="c69"><circle cx="425" cy="678" r="4"/><text x="343" y="681">(2'S)-Deoxymyxol<tspan x="343" y="689">2'-(2,4-di-O-methyl-</tspan><tspan x="343" y="697">α-L-fucoside)</tspan></text></g>
<g id="c70"><circle cx="425" cy="736" r="4"/><text x="348" y="742">(3R,2'S)-Myxol<tspan x="348" y="750">2'-(2,4-di-O-methyl-</tspan><tspan x="348" y="758">α-L-fucoside)</tspan></text></g>
<g id="c71"><circle cx="536" cy="678" r="4"/><text x="457" y="679">(2'S)-Deoxymyxol<tspan x="457" y="687">2'-α-L-fucoside</tspan></text></g>
<g id="c72"><circle cx="536" cy="736" r="4"/><text x="465" y="732">(3R,2'S)-Myxol<tspan x="465" y="740">2'-α-L-fucoside</tspan></text></g>
<g id="c73"><circle cx="536" cy="777" r="4"/><text x="495" y="792">(3S,2'S)-4-Ketomyxol<tspan x="495" y="800">2'-α-L-fucoside</tspan></text></g>
<g id="c74"><circle cx="567" cy="528" r="4"/><text x="543" y="510">Strigolactone<tspan x="543" y="518">ABC-rings</tspan></text></g>
<g id="c75"><circle cx="600" cy="584" r="4"/><text x="607" y="589">9-cis-β-Carotene</text></g>
<g id="c76"><circle cx="600" cy="632" r="4"/><text x="607" y="632">9-cis-10'-Apo-<tspan x="607" y="640">β-carotenal</tspan></text></g>
<g id="c77"><circle cx="600" cy="683" r="4"/><text x="607" y="687">Carlactone</text></g>
<g id="c78"><circle cx="600" cy="727" r="4"/><text x="607" y="726">5-Deoxy-<tspan x="607" y="734">strigol</tspan></text></g>
<g id="c79"><circle cx="600" cy="777" r="4"/><text x="588" y="792">Strigol</text></g>
<g id="c80"><circle cx="677" cy="527" r="4"/><text x="630" y="540">β-Carotene</text></g>
<g id="c81"><circle cx="752" cy="478" r="4"/><text x="710" y="497">β-Isorenieratene</text></g>
<g id="c82"><circle cx="752" cy="434" r="4"/><text x="733" y="426">Isorenieratene</text></g>
<g id="c83"><circle cx="783" cy="527" r="4"/><text x="748" y="543">β-Cryptoxanthin</text></g>
<g id="c84"><circle cx="783" cy="478" r="4"/><text x="773" y="463">Thermo-<tspan x="773" y="471">cryptoxanthin</tspan></text></g>
<g id="c85"><circle cx="832" cy="478" r="4"/><text x="813" y="490">Thermo-<tspan x="813" y="498">zeaxanthin</tspan></text></g>
<g id="c86"><circle cx="832" cy="434" r="4"/><text x="805" y="417">Thermo-<tspan x="805" y="425">biszeaxanthin</tspan></text></g>
<g id="c87"><circle cx="886" cy="527" r="4"/><text x="893" y="530">Zeaxanthin</text></g>
<g id="c88"><circle cx="884" cy="434" r="4"/><text x="873" y="417">Zeaxanthin<tspan x="873" y="425">diglucoside</tspan></text></g>
<g id="c89"><circle cx="937" cy="473" r="4"/><text x="897" y="485">Caloxanthin</text></g>
<g id="c90"><circle cx="937" cy="434" r="4"/><text x="931" y="425">Nostoxanthin</text></g>
<g id="c91"><circle cx="977" cy="527" r="4"/><text x="983" y="525">Anthera-<tspan x="983" y="533">xanthin</tspan></text></g>
<g id="c92"><circle cx="1066" cy="527" r="4"/><text x="1071" y="522">Violaxanthin</text></g>
<g id="c93"><circle cx="977" cy="434" r="4"/><text x="984" y="437">Capsanthin</text></g>
<g id="c94"><circle cx="1066" cy="434" r="4"/><text x="1073" y="437">Capsorubin</text></g>
<g id="c95"><circle cx="1130" cy="568" r="4"/><text x="1080" y="570">Neoxanthin</text></g>
<g id="c96"><circle cx="1130" cy="617" r="4"/><text x="1080" y="600">9'-cis-<tspan x="1080" y="608">Neoxanthin</tspan></text></g>
<g id="c97"><circle cx="1066" cy="617" r="4"/><text x="1010" y="606">9-cis-<tspan x="1010" y="615">Violaxanthin</tspan></text></g>
<g id="c98"><circle cx="1066" cy="663" r="4"/><text x="1069" y="680">Xanthoxin</text></g>
<g id="c99"><circle cx="1003" cy="663" r="4"/><text x="1007" y="643">Abscisic<tspan x="1007" y="651">aldehyde</tspan></text></g>
<g id="c100"><circle cx="938" cy="663" r="4"/><text x="895" y="666">Abscisate</text></g>
<g id="c101"><circle cx="970" cy="637" r="4"/><text x="937" y="631">Abscisic alcohol</text></g>
<g id="c102"><circle cx="1003" cy="694" r="4"/><text x="973" y="688">Xanthoxic acid</text></g>
<g id="c103"><circle cx="1003" cy="762" r="4"/><text x="983" y="745">8'-Hydroxy-<tspan x="983" y="753">abscisate</tspan></text></g>
<g id="c104"><circle cx="1066" cy="762" r="4"/><text x="1041" y="753">Phaseic acid</text></g>
<g id="c105"><circle cx="1130" cy="762" r="4"/><text x="1106" y="745">Dihydroxy-<tspan x="1106" y="753">phaseic acid</tspan></text></g>
<g id="c106"><circle cx="1003" cy="786" r="4"/><text x="1010" y="783">Abscisic acid<tspan x="1010" y="791">glucose ester</tspan></text></g>
<g id="c107"><circle cx="677" cy="617" r="4"/><text x="626" y="617">Echinenone</text></g>
<g id="c108"><circle cx="783" cy="617" r="4"/><text x="787" y="602">3-Hydroxy-<tspan x="787" y="610">echinenone</tspan></text></g>
<g id="c109"><circle cx="886" cy="617" r="4"/><text x="893" y="620">Adonixanthin</text></g>
<g id="c110"><circle cx="744" cy="662" r="4"/><text x="750" y="645">3'-Hydroxy-<tspan x="750" y="653">echinenone</tspan></text></g>
<g id="c111"><circle cx="677" cy="721" r="4"/><text x="662" y="737">Canthaxanthin</text></g>
<g id="c112"><circle cx="783" cy="721" r="4"/><text x="748" y="733">Phoenicoxanthin</text></g>
<g id="c113"><circle cx="886" cy="721" r="4"/><text x="893" y="719">Asta-<tspan x="893" y="727">xanthin</tspan></text></g>
<g id="c114"><circle cx="886" cy="761" r="4"/><text x="877" y="777">Astaxanthin<tspan x="877" y="785">diester</tspan></text></g>
</g>
</svg>
